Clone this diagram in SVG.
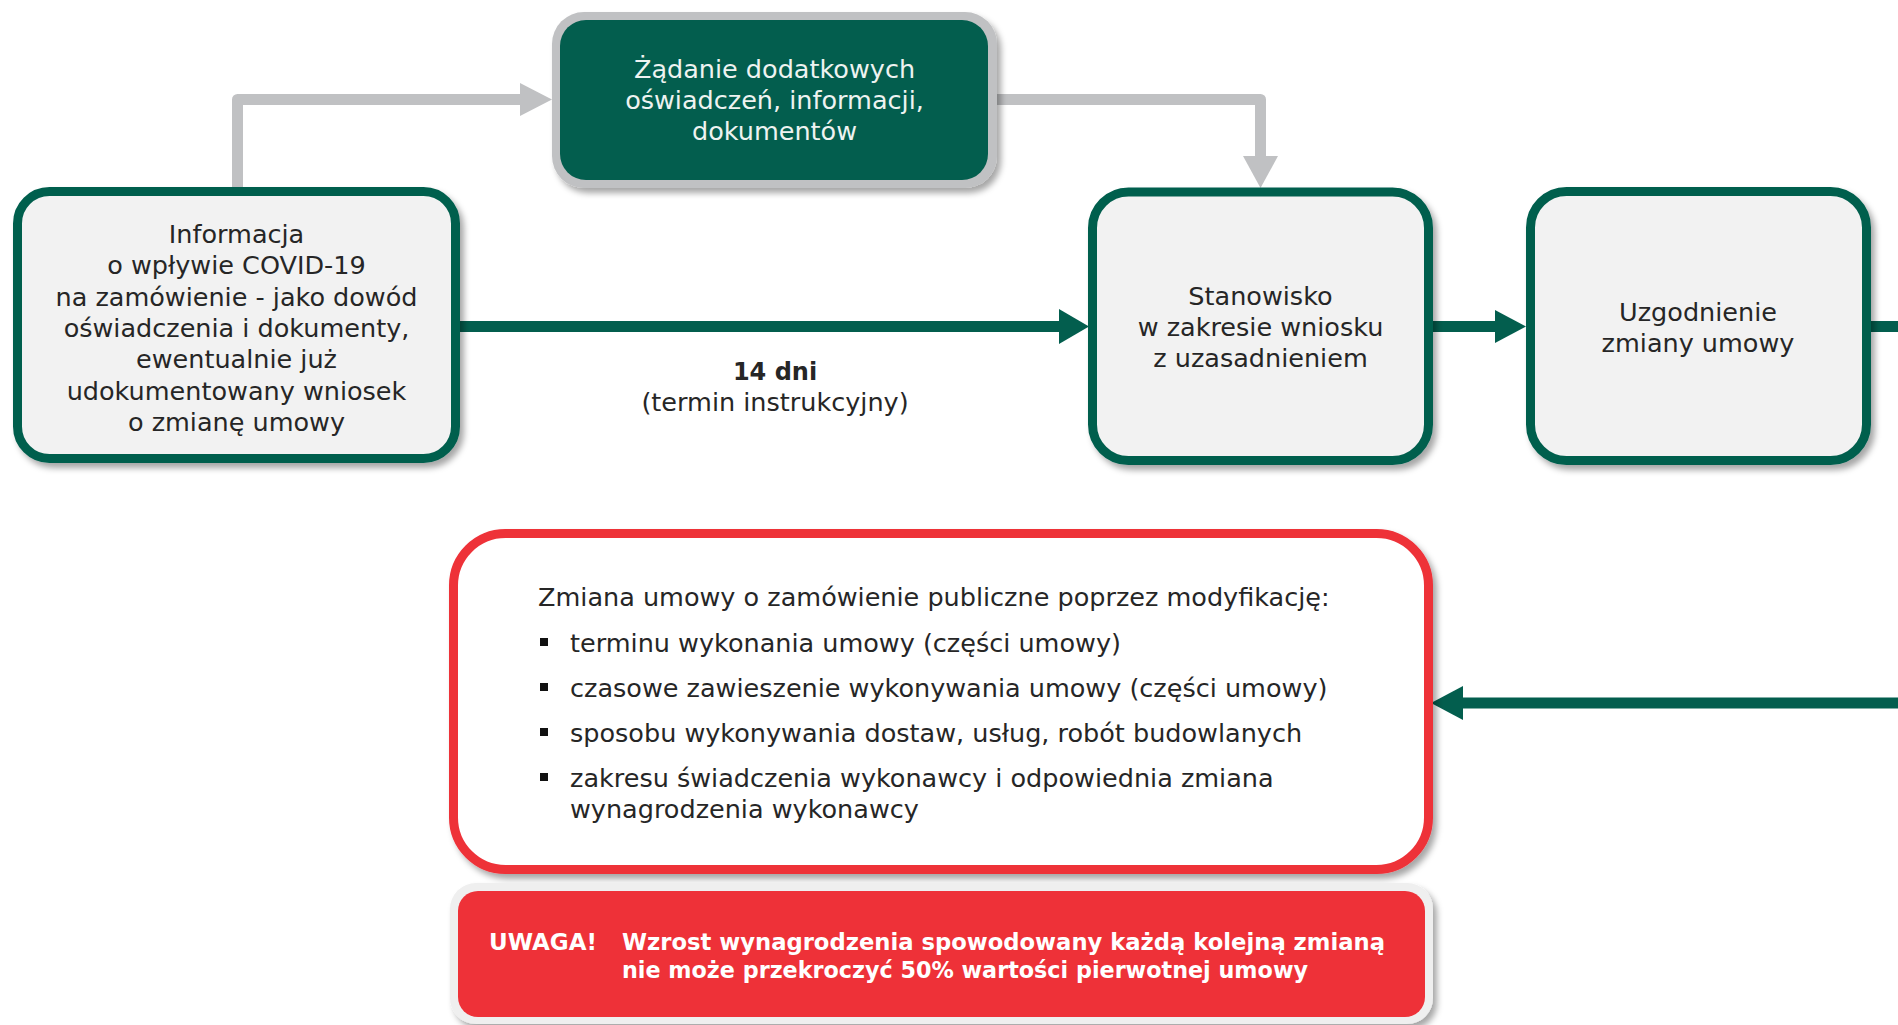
<svg xmlns="http://www.w3.org/2000/svg" width="1898" height="1025" viewBox="0 0 1898 1025">
<defs>
<filter id="sh" x="-10%" y="-10%" width="125%" height="130%">
<feDropShadow dx="4" dy="5" stdDeviation="3" flood-color="#000" flood-opacity="0.35"/>
</filter>
<style>
.gbox{fill:#f2f2f2;stroke:#035e4e;stroke-width:9}
.t{font-family:"DejaVu Sans",sans-serif;font-size:25.5px;fill:#262626}
.c{text-anchor:middle}
.w{fill:#eef3f1}
.b{font-weight:bold}
.wt{font-family:"DejaVu Sans",sans-serif;font-size:23px;font-weight:bold;fill:#ffffff}
.gl{fill:none;stroke:#c0c1c3;stroke-width:11;stroke-linejoin:round}
.ga{fill:#c0c1c3}
.ml{fill:none;stroke:#035e4e;stroke-width:11}
.ma{fill:#035e4e}
</style>
</defs>
<rect width="1898" height="1025" fill="#ffffff"/>

<g id="connectors">
<path class="gl" d="M237.5 190 V99.5 H522"/>
<polygon class="ga" points="520,83 552,99.5 520,116"/>
<path class="gl" d="M995 99.5 H1260.5 V158"/>
<polygon class="ga" points="1243,156 1278,156 1260.5,188"/>
<line class="ml" x1="460" y1="326.5" x2="1062" y2="326.5"/>
<polygon class="ma" points="1059,309 1089,326.5 1059,344"/>
<line class="ml" x1="1433" y1="326.5" x2="1498" y2="326.5"/>
<polygon class="ma" points="1495,310 1526,326.5 1495,343"/>
<line class="ml" x1="1870" y1="326.5" x2="1898" y2="326.5"/>
<line class="ml" x1="1898" y1="703" x2="1460" y2="703"/>
<polygon class="ma" points="1463,686 1431,703 1463,720"/>
</g>

<g id="node-informacja">
<rect class="gbox" x="17.5" y="191.5" width="438" height="267" rx="32" filter="url(#sh)"/>
<text class="t c" x="236.5" y="243">Informacja</text>
<text class="t c" x="236.5" y="274.3">o wpływie COVID-19</text>
<text class="t c" x="236.5" y="305.6">na zamówienie - jako dowód</text>
<text class="t c" x="236.5" y="337">oświadczenia i dokumenty,</text>
<text class="t c" x="236.5" y="368.3">ewentualnie już</text>
<text class="t c" x="236.5" y="399.6">udokumentowany wniosek</text>
<text class="t c" x="236.5" y="431">o zmianę umowy</text>
</g>

<g id="node-zadanie">
<rect x="552" y="12" width="445" height="176" rx="32" fill="#c0c1c3" filter="url(#sh)"/>
<rect x="560" y="20" width="428" height="160" rx="26" fill="#035e4e"/>
<text class="t c w" x="774.5" y="78">Żądanie dodatkowych</text>
<text class="t c w" x="774.5" y="109">oświadczeń, informacji,</text>
<text class="t c w" x="774.5" y="140">dokumentów</text>
</g>

<g id="label-14dni">
<text class="t c b" x="775" y="380" style="font-size:24px">14 dni</text>
<text class="t c" x="775" y="411">(termin instrukcyjny)</text>
</g>

<g id="node-stanowisko">
<rect class="gbox" x="1092.5" y="192" width="336" height="268.5" rx="36" filter="url(#sh)"/>
<text class="t c" x="1260.5" y="305">Stanowisko</text>
<text class="t c" x="1260.5" y="336">w zakresie wniosku</text>
<text class="t c" x="1260.5" y="367">z uzasadnieniem</text>
</g>

<g id="node-uzgodnienie">
<rect class="gbox" x="1530.5" y="191.5" width="336" height="269" rx="36" filter="url(#sh)"/>
<text class="t c" x="1698" y="321">Uzgodnienie</text>
<text class="t c" x="1698" y="352">zmiany umowy</text>
</g>

<g id="node-zmiana">
<rect x="453.5" y="533.5" width="975" height="336" rx="52" fill="#ffffff" stroke="#ee3138" stroke-width="9" filter="url(#sh)"/>
<text class="t" x="538" y="606">Zmiana umowy o zamówienie publiczne poprzez modyfikację:</text>
<rect x="540" y="638" width="8" height="8" fill="#111"/>
<text class="t" x="570" y="652">terminu wykonania umowy (części umowy)</text>
<rect x="540" y="683" width="8" height="8" fill="#111"/>
<text class="t" x="570" y="697">czasowe zawieszenie wykonywania umowy (części umowy)</text>
<rect x="540" y="728" width="8" height="8" fill="#111"/>
<text class="t" x="570" y="742">sposobu wykonywania dostaw, usług, robót budowlanych</text>
<rect x="540" y="773" width="8" height="8" fill="#111"/>
<text class="t" x="570" y="787">zakresu świadczenia wykonawcy i odpowiednia zmiana</text>
<text class="t" x="570" y="818">wynagrodzenia wykonawcy</text>
</g>

<g id="node-uwaga">
<rect x="450" y="883" width="983" height="141" rx="26" fill="#efefef" filter="url(#sh)"/>
<rect x="458" y="891" width="967" height="126" rx="20" fill="#ee3138"/>
<text class="wt" x="489" y="950">UWAGA!</text>
<text class="wt" x="622" y="950" textLength="763" lengthAdjust="spacingAndGlyphs">Wzrost wynagrodzenia spowodowany każdą kolejną zmianą</text>
<text class="wt" x="622" y="978" textLength="686" lengthAdjust="spacingAndGlyphs">nie może przekroczyć 50% wartości pierwotnej umowy</text>
</g>
</svg>
